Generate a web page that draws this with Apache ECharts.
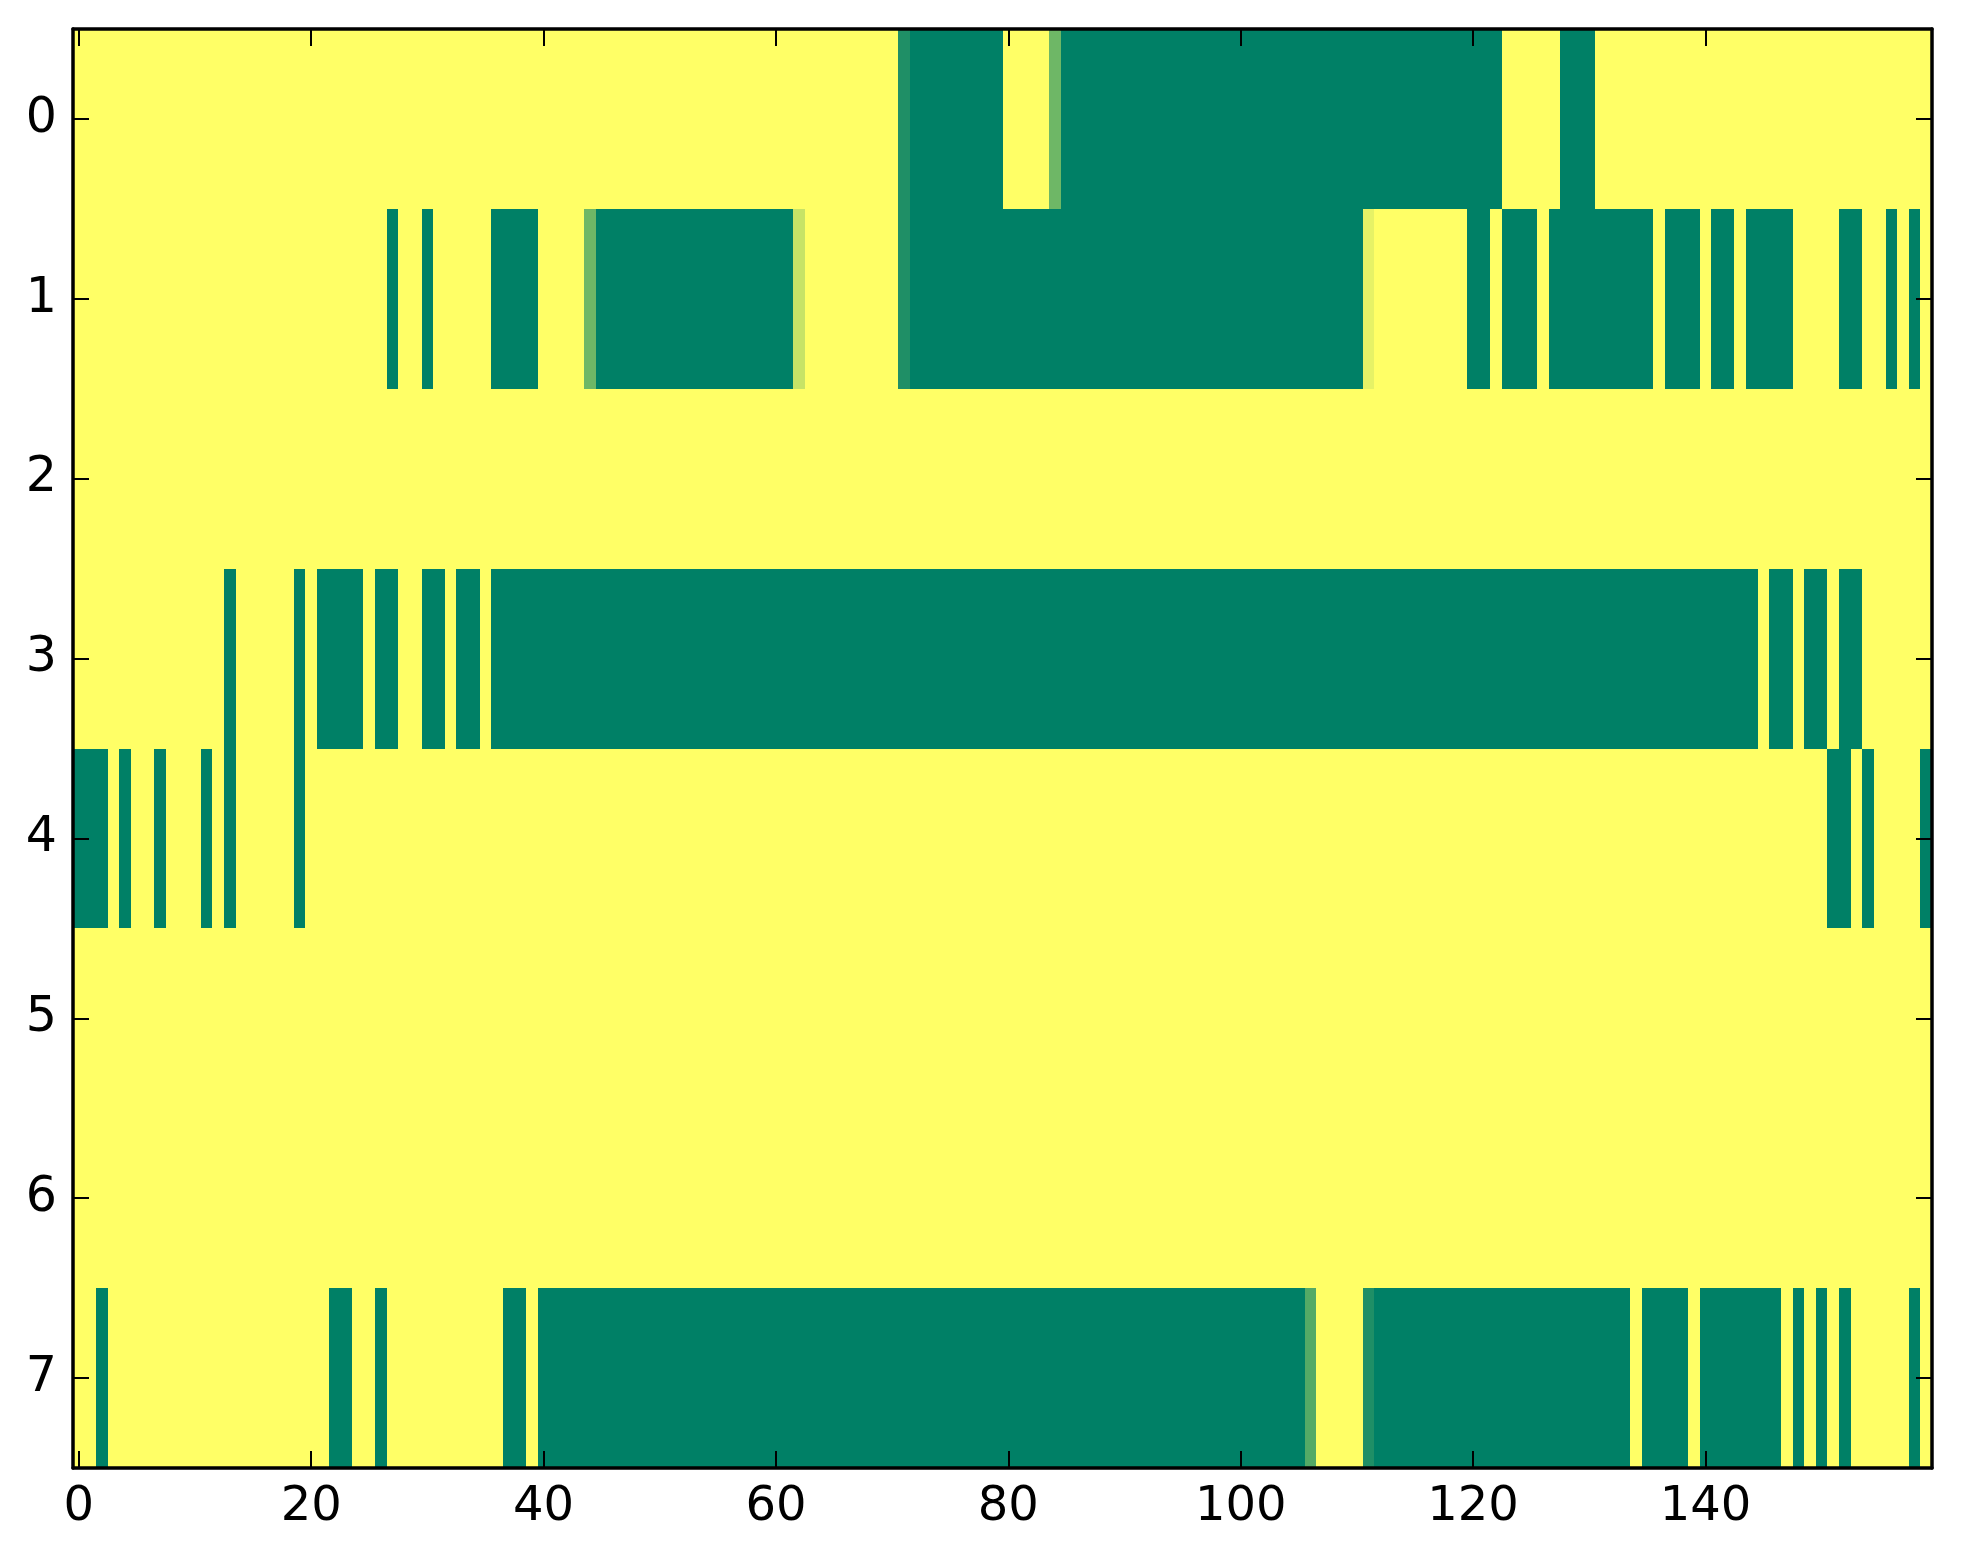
<!DOCTYPE html>
<html>
<head>
<meta charset="utf-8">
<script src="https://cdn.jsdelivr.net/npm/echarts@6/dist/echarts.min.js"></script>
<style>
html,body{margin:0;padding:0;background:#fff;}
#chart{width:1963px;height:1564px;}
</style>
</head>
<body>
<div id="chart"></div>
<script>
// Cell values (0 = green, 1 = yellow), 160 columns per row
var row0 = [
1,1,1,1,1,1,1,1,1,1,1,1,1,1,1,1,1,1,1,1,
1,1,1,1,1,1,1,1,1,1,1,1,1,1,1,1,1,1,1,1,
1,1,1,1,1,1,1,1,1,1,1,1,1,1,1,1,1,1,1,1,
1,1,1,1,1,1,1,1,1,1,1,0.12,0,0,0,0,0,0,0,0,
1,1,1,1,0.43,0,0,0,0,0,0,0,0,0,0,0,0,0,0,0,
0,0,0,0,0,0,0,0,0,0,0,0,0,0,0,0,0,0,0,0,
0,0,0,1,1,1,1,1,0,0,0,1,1,1,1,1,1,1,1,1,
1,1,1,1,1,1,1,1,1,1,1,1,1,1,1,1,1,1,1,1];
var row1 = [
1,1,1,1,1,1,1,1,1,1,1,1,1,1,1,1,1,1,1,1,
1,1,1,1,1,1,1,0,1,1,0,1,1,1,1,1,0,0,0,0,
1,1,1,1,0.43,0,0,0,0,0,0,0,0,0,0,0,0,0,0,0,
0,0,0.78,1,1,1,1,1,1,1,1,0.12,0,0,0,0,0,0,0,0,
0,0,0,0,0,0,0,0,0,0,0,0,0,0,0,0,0,0,0,0,
0,0,0,0,0,0,0,0,0,0,0,0.9,1,1,1,1,1,1,1,1,
0,0,1,0,0,0,1,0,0,0,0,0,0,0,0,0,1,0,0,0,
1,0,0,1,0,0,0,0,1,1,1,1,0,0,1,1,0,1,0,1];
var row2 = [
1,1,1,1,1,1,1,1,1,1,1,1,1,1,1,1,1,1,1,1,
1,1,1,1,1,1,1,1,1,1,1,1,1,1,1,1,1,1,1,1,
1,1,1,1,1,1,1,1,1,1,1,1,1,1,1,1,1,1,1,1,
1,1,1,1,1,1,1,1,1,1,1,1,1,1,1,1,1,1,1,1,
1,1,1,1,1,1,1,1,1,1,1,1,1,1,1,1,1,1,1,1,
1,1,1,1,1,1,1,1,1,1,1,1,1,1,1,1,1,1,1,1,
1,1,1,1,1,1,1,1,1,1,1,1,1,1,1,1,1,1,1,1,
1,1,1,1,1,1,1,1,1,1,1,1,1,1,1,1,1,1,1,1];
var row3 = [
1,1,1,1,1,1,1,1,1,1,1,1,1,0,1,1,1,1,1,0,
1,0,0,0,0,1,0,0,1,1,0,0,1,0,0,1,0,0,0,0,
0,0,0,0,0,0,0,0,0,0,0,0,0,0,0,0,0,0,0,0,
0,0,0,0,0,0,0,0,0,0,0,0,0,0,0,0,0,0,0,0,
0,0,0,0,0,0,0,0,0,0,0,0,0,0,0,0,0,0,0,0,
0,0,0,0,0,0,0,0,0,0,0,0,0,0,0,0,0,0,0,0,
0,0,0,0,0,0,0,0,0,0,0,0,0,0,0,0,0,0,0,0,
0,0,0,0,0,1,0,0,1,0,0,1,0,0,1,1,1,1,1,1];
var row4 = [
0,0,0,1,0,1,1,0,1,1,1,0,1,0,1,1,1,1,1,0,
1,1,1,1,1,1,1,1,1,1,1,1,1,1,1,1,1,1,1,1,
1,1,1,1,1,1,1,1,1,1,1,1,1,1,1,1,1,1,1,1,
1,1,1,1,1,1,1,1,1,1,1,1,1,1,1,1,1,1,1,1,
1,1,1,1,1,1,1,1,1,1,1,1,1,1,1,1,1,1,1,1,
1,1,1,1,1,1,1,1,1,1,1,1,1,1,1,1,1,1,1,1,
1,1,1,1,1,1,1,1,1,1,1,1,1,1,1,1,1,1,1,1,
1,1,1,1,1,1,1,1,1,1,1,0,0,1,0,1,1,1,1,0];
var row5 = [
1,1,1,1,1,1,1,1,1,1,1,1,1,1,1,1,1,1,1,1,
1,1,1,1,1,1,1,1,1,1,1,1,1,1,1,1,1,1,1,1,
1,1,1,1,1,1,1,1,1,1,1,1,1,1,1,1,1,1,1,1,
1,1,1,1,1,1,1,1,1,1,1,1,1,1,1,1,1,1,1,1,
1,1,1,1,1,1,1,1,1,1,1,1,1,1,1,1,1,1,1,1,
1,1,1,1,1,1,1,1,1,1,1,1,1,1,1,1,1,1,1,1,
1,1,1,1,1,1,1,1,1,1,1,1,1,1,1,1,1,1,1,1,
1,1,1,1,1,1,1,1,1,1,1,1,1,1,1,1,1,1,1,1];
var row6 = [
1,1,1,1,1,1,1,1,1,1,1,1,1,1,1,1,1,1,1,1,
1,1,1,1,1,1,1,1,1,1,1,1,1,1,1,1,1,1,1,1,
1,1,1,1,1,1,1,1,1,1,1,1,1,1,1,1,1,1,1,1,
1,1,1,1,1,1,1,1,1,1,1,1,1,1,1,1,1,1,1,1,
1,1,1,1,1,1,1,1,1,1,1,1,1,1,1,1,1,1,1,1,
1,1,1,1,1,1,1,1,1,1,1,1,1,1,1,1,1,1,1,1,
1,1,1,1,1,1,1,1,1,1,1,1,1,1,1,1,1,1,1,1,
1,1,1,1,1,1,1,1,1,1,1,1,1,1,1,1,1,1,1,1];
var row7 = [
1,1,0,1,1,1,1,1,1,1,1,1,1,1,1,1,1,1,1,1,
1,1,0,0,1,1,0,1,1,1,1,1,1,1,1,1,1,0,0,1,
0,0,0,0,0,0,0,0,0,0,0,0,0,0,0,0,0,0,0,0,
0,0,0,0,0,0,0,0,0,0,0,0,0,0,0,0,0,0,0,0,
0,0,0,0,0,0,0,0,0,0,0,0,0,0,0,0,0,0,0,0,
0,0,0,0,0,0,0.33,1,1,1,1,0.12,0,0,0,0,0,0,0,0,
0,0,0,0,0,0,0,0,0,0,0,0,0,0,1,0,0,0,0,1,
0,0,0,0,0,0,0,1,0,1,0,1,0,1,1,1,1,1,0,1];

var rows = [row0, row1, row2, row3, row4, row5, row6, row7];
var yCategories = ['0','1','2','3','4','5','6','7'];
var xTickStep = 20;
var xCategories = [];
for (var c = 0; c < row0.length; c++) xCategories.push(String(c));

var data = [];
rows.forEach(function (r, yi) {
  r.forEach(function (v, xi) { data.push([xi, yi, v]); });
});

var FONT = 'DejaVu Sans';
var xInt = function (i) { return i % xTickStep === 0; };
var lineStyle = { color: '#000', width: 3.5 };

function xAxisDef(pos, showLabel) {
  return {
    type: 'category', data: xCategories, position: pos, boundaryGap: true, z: 10,
    axisLine: { show: true, onZero: false, lineStyle: lineStyle },
    axisTick: { show: true, inside: true, alignWithLabel: true, interval: xInt, length: 17, lineStyle: { color: '#000', width: 2 } },
    axisLabel: { show: showLabel, interval: xInt, fontFamily: FONT, fontSize: 48, color: '#000', margin: 16 },
    splitLine: { show: false }
  };
}
function yAxisDef(pos, showLabel) {
  return {
    type: 'category', data: yCategories, position: pos, inverse: true, boundaryGap: true, z: 10,
    axisLine: { show: true, onZero: false, lineStyle: lineStyle },
    axisTick: { show: true, inside: true, alignWithLabel: true, length: 16, lineStyle: { color: '#000', width: 2 } },
    axisLabel: { show: showLabel, fontFamily: FONT, fontSize: 49, color: '#000', margin: 16 },
    splitLine: { show: false }
  };
}

function renderCell(params, api) {
  var p = api.coord([api.value(0), api.value(1)]);
  var s = api.size([1, 1]);
  var x0 = Math.round(p[0] - s[0] / 2), x1 = Math.round(p[0] + s[0] / 2);
  var y0 = Math.round(p[1] - s[1] / 2), y1 = Math.round(p[1] + s[1] / 2);
  return {
    type: 'rect',
    shape: { x: x0, y: y0, width: x1 - x0 + 1, height: y1 - y0 + 1 },
    style: { fill: api.visual('color') },
    silent: true
  };
}

var chart = echarts.init(document.getElementById('chart'), null, { renderer: 'canvas' });
chart.setOption({
  animation: false,
  backgroundColor: '#ffffff',
  grid: { left: 73, right: 31, top: 29, bottom: 96, containLabel: false },
  xAxis: [xAxisDef('bottom', true), xAxisDef('top', false)],
  yAxis: [yAxisDef('left', true), yAxisDef('right', false)],
  visualMap: {
    type: 'continuous', show: false, min: 0, max: 1, dimension: 2, seriesIndex: 0,
    inRange: { color: ['#008066', '#ffff66'] }
  },
  series: [{
    type: 'custom', xAxisIndex: 0, yAxisIndex: 0, data: data,
    renderItem: renderCell,
    encode: { x: 0, y: 1 },
    clip: true,
    progressive: 0,
    z: 1
  }]
});
</script>
</body>
</html>
